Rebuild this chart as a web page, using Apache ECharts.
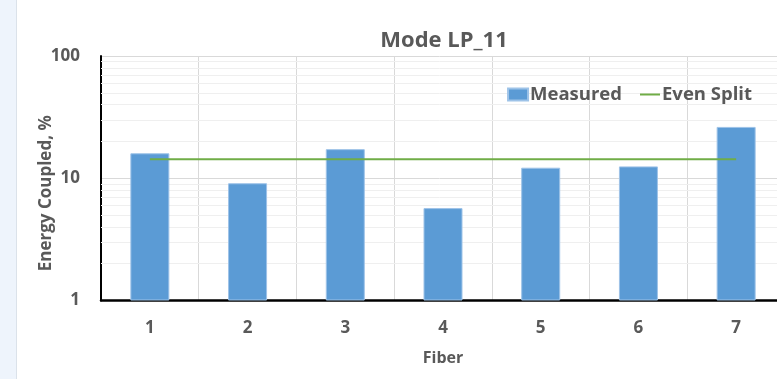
<!DOCTYPE html>
<html>
<head>
<meta charset="utf-8">
<script src="https://cdn.jsdelivr.net/npm/echarts@6/dist/echarts.min.js"></script>
<style>
  html, body { margin: 0; padding: 0; background: #fff; }
  #chart { width: 777px; height: 379px; }
</style>
</head>
<body>
<div id="chart"></div>
<script>
// Values
const fibers = ['1', '2', '3', '4', '5', '6', '7'];
const measured = [16.0, 9.1, 17.3, 5.7, 12.2, 12.5, 26.3];
const evenSplit = [14.29, 14.29, 14.29, 14.29, 14.29, 14.29, 14.29];
const minorGrid = [2, 3, 4, 5, 6, 7, 8, 9, 20, 30, 40, 50, 60, 70, 80, 90];

const font = '"Open Sans", Lato, sans-serif';
const gray = '#595959';

const chart = echarts.init(document.getElementById('chart'));

chart.setOption({
  animation: false,
  textStyle: { fontFamily: font },
  title: {
    text: 'Mode LP_11',
    left: 439,
    textAlign: 'center',
    top: 25,
    textStyle: { fontSize: 22, fontWeight: 'bold', color: gray, fontFamily: font }
  },
  legend: {
    data: [
      { name: 'Measured', icon: 'rect' },
      { name: 'Even Split', icon: 'path://M0,0 L20,0 L20,2 L0,2 Z' }
    ],
    right: 20,
    top: 80,
    itemWidth: 20,
    itemHeight: 12,
    itemGap: 18,
    textStyle: { fontSize: 18.5, fontWeight: 'bold', color: gray, fontFamily: font, padding: [0, 0, 0, -3] }
  },
  grid: { left: 101, right: -8, top: 56, bottom: 78.5, outerBoundsMode: 'none', containLabel: false },
  xAxis: {
    type: 'category',
    data: fibers,
    name: 'Fiber',
    nameLocation: 'middle',
    nameGap: 50,
    nameTextStyle: { fontSize: 16, fontWeight: 'bold', color: gray },
    axisLine: { lineStyle: { color: '#000', width: 2.5 } },
    axisTick: { show: false },
    axisLabel: { fontSize: 17, fontWeight: 'bold', color: gray, margin: 19 },
    splitLine: { show: true, lineStyle: { color: '#d9d9d9', width: 1 } }
  },
  yAxis: {
    type: 'log',
    logBase: 10,
    min: 1,
    max: 100,
    name: 'Energy Coupled, %',
    nameLocation: 'middle',
    nameGap: 46,
    nameMoveOverlap: false,
    nameTextStyle: { fontSize: 17, fontWeight: 'bold', color: gray, padding: [0, 30, 0, 0] },
    axisLine: { show: true, lineStyle: { color: '#000', width: 2 } },
    axisTick: { show: false },
    axisLabel: { fontSize: 17, fontWeight: 'bold', color: gray, margin: 21 },
    splitLine: { show: true, lineStyle: { color: '#d9d9d9', width: 1 } }
  },
  graphic: [
    { type: 'rect', shape: { x: 0, y: 0, width: 16, height: 379 }, style: { fill: '#eef4fc' } },
    { type: 'line', shape: { x1: 16.5, y1: 0, x2: 16.5, y2: 379 }, style: { stroke: '#dbe2ea', lineWidth: 1 } }
  ],
  series: [
    {
      name: 'minor',
      type: 'line',
      data: [],
      z: 1,
      silent: true,
      markLine: {
        z: 1,
        silent: true,
        symbol: 'none',
        label: { show: false },
        lineStyle: { color: '#efefef', type: 'solid', width: 1 },
        data: minorGrid.map(v => ({ yAxis: v }))
      }
    },
    {
      name: 'Measured',
      type: 'bar',
      data: measured,
      barWidth: 39,
      z: 3,
      itemStyle: { color: '#5b9bd5', borderColor: '#9ec3e8', borderWidth: 1 }
    },
    {
      name: 'Even Split',
      type: 'line',
      data: evenSplit,
      symbol: 'none',
      z: 4,
      lineStyle: { color: '#70ad47', width: 2 },
      itemStyle: { color: '#70ad47' }
    }
  ]
});
</script>
</body>
</html>
